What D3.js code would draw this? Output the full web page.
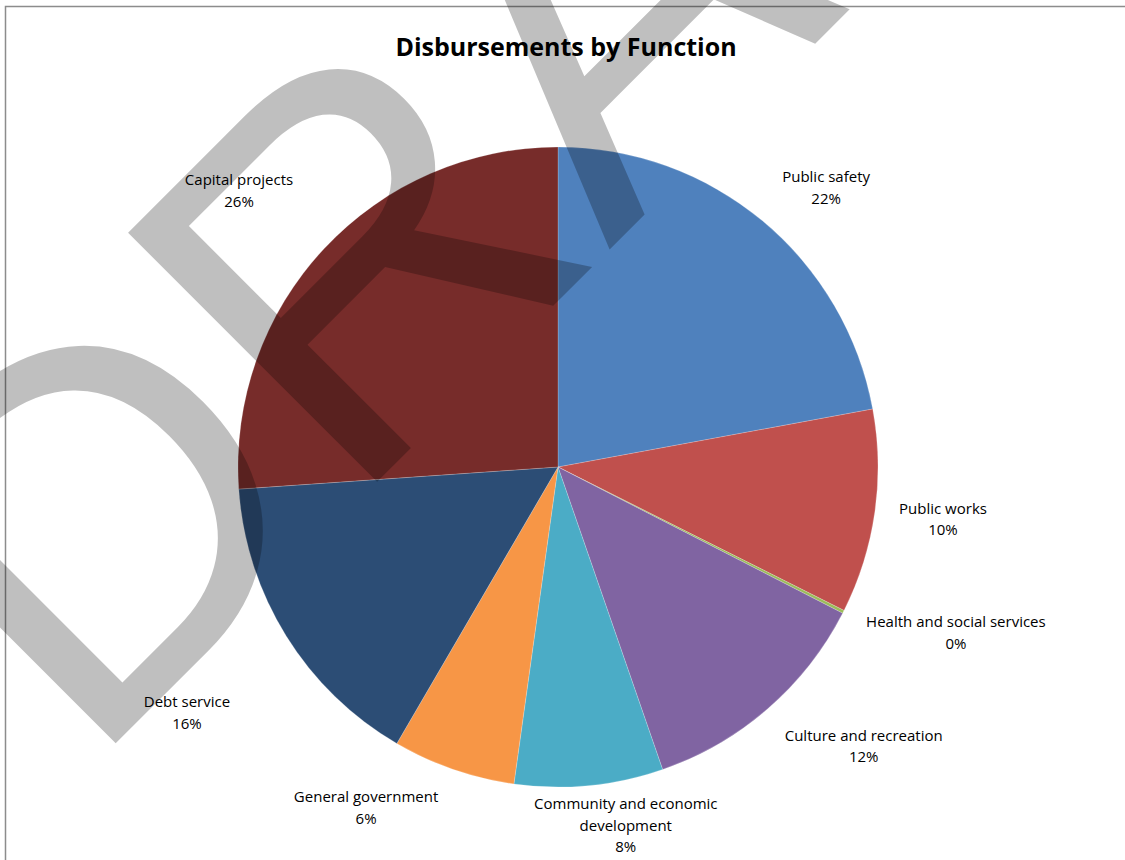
<html>
<style>
  body {
    margin: 0;
    background: #ffffff;
    font-family: "Open Sans", sans-serif;
  }
</style>
<script src="https://d3js.org/d3.v7.min.js"></script>
<body>
<svg id="chart" width="1125" height="860"></svg>
</body>
<script>
  // shares of total disbursements (percent)
  const categories = ["Public safety", "Public works", "Health and social services",
                      "Culture and recreation", "Community and economic development",
                      "General government", "Debt service", "Capital projects"];
  const shares = [22.1, 10.3, 0.15, 12.15, 7.5, 6.2, 15.5, 26.1];
  const colors = ["#4F81BD", "#C0504D", "#9BBB59", "#8064A2", "#4BACC6", "#F79646", "#2C4D75", "#772C2A"];

  // label blocks: [angle in degrees clockwise from 12 o'clock, distance from pie centre]
  const labelPolar = [[43.85, 387], [97.7, 388.5], [112.6, 431], [132.4, 414],
                      [169.3, 365], [209.4, 391], [236.5, 445], [310.9, 422]];

  const W = 1125, H = 860;
  const cx = 558, cy = 467, R = 320;
  const lineH = 21.5;
  const wrapWidth = 200;

  const svg = d3.select("#chart");

  // chart frame, it runs past the right and bottom of the window
  svg.append("rect")
      .attr("x", 5.5).attr("y", 6.5)
      .attr("width", W + 40).attr("height", H + 40)
      .attr("fill", "none")
      .attr("stroke", "#8c8c8c")
      .attr("stroke-width", 1.5);

  const data = categories.map((c, i) => ({name: c, share: shares[i], color: colors[i]}));
  const pie = d3.pie().sort(null).value(d => d.share);
  const arcs = pie(data);
  const arc = d3.arc().innerRadius(0).outerRadius(R);

  const g = svg.append("g").attr("transform", `translate(${cx},${cy})`);
  g.selectAll("path.slice").data(arcs).join("path")
      .attr("class", "slice")
      .attr("d", arc)
      .attr("fill", d => d.data.color)
      .attr("stroke", "#ffffff")
      .attr("stroke-width", 0.4)
      .attr("stroke-opacity", 0.5);

  // DRAFT watermark across the page
  svg.append("text")
      .attr("transform", "translate(86,773) rotate(-45)")
      .attr("font-family", "'Liberation Sans', Arial, sans-serif")
      .attr("font-size", 512)
      .attr("fill", "#000000")
      .attr("fill-opacity", 0.25)
      .text("DRAFT");

  svg.append("text")
      .attr("x", 566).attr("y", 56)
      .attr("text-anchor", "middle")
      .attr("font-size", 25)
      .attr("font-weight", "bold")
      .attr("fill", "#000000")
      .text("Disbursements by Function");

  // wrap a label into lines no wider than wrapWidth
  const measure = svg.append("text").attr("font-size", 15).attr("visibility", "hidden");
  function wrap(str) {
    const words = str.split(" ");
    let lines = [], cur = "";
    words.forEach(w => {
      const test = cur ? cur + " " + w : w;
      measure.text(test);
      if (cur && measure.node().getComputedTextLength() > wrapWidth) {
        lines.push(cur);
        cur = w;
      } else {
        cur = test;
      }
    });
    lines.push(cur);
    return lines;
  }

  const labels = g.selectAll("g.label").data(arcs).join("g")
      .attr("class", "label")
      .attr("transform", (d, i) => {
        const p = d3.pointRadial(labelPolar[i][0] * Math.PI / 180, labelPolar[i][1]);
        return `translate(${p[0]},${p[1]})`;
      });

  labels.each(function(d) {
    const lines = wrap(d.data.name).concat([Math.round(d.data.share) + "%"]);
    const n = lines.length;
    d3.select(this).selectAll("text").data(lines).join("text")
        .attr("text-anchor", "middle")
        .attr("font-size", 15)
        .attr("fill", "#000000")
        .attr("y", (t, j) => (j - (n - 1) / 2) * lineH)
        .attr("dy", "0.35em")
        .text(t => t);
  });
  measure.remove();
</script>
</html>
